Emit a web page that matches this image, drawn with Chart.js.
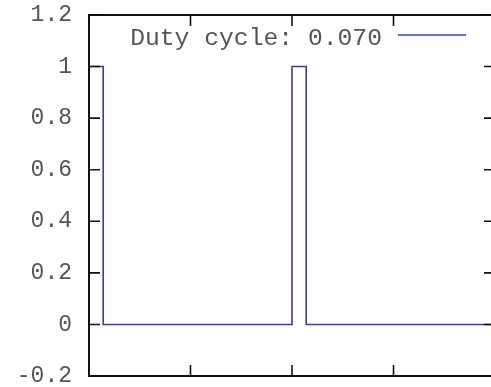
<!DOCTYPE html>
<html>
<head>
<meta charset="utf-8">
<script src="https://cdn.jsdelivr.net/npm/chart.js@4"></script>
<style>
  html, body { margin: 0; padding: 0; overflow: hidden; background: #fff; }
  #myChart { display: block; }
</style>
</head>
<body>
<canvas id="myChart" width="500" height="387"></canvas>
<script>
const seriesLabel = "Duty cycle: 0.070";
const pulseX = [0, 0.14, 0.14, 2, 2, 2.14, 2.14, 4];
const pulseY = [1, 1, 0, 0, 1, 1, 0, 0];
const xTickValues = [0, 1, 2, 3, 4];
const yTickValues = [-0.2, 0, 0.2, 0.4, 0.6, 0.8, 1, 1.2];
const yTickLabels = ["-0.2", "0", "0.2", "0.4", "0.6", "0.8", "1", "1.2"];

const lineColor = '#3b3ba8';

// gnuplot style border with inward ticks on all four sides, plus a key at top right
const gnuplotFrame = {
    id: 'gnuplotFrame',
    afterDatasetsDraw(chart) {
        const ctx = chart.ctx;
        const area = chart.chartArea;
        const xs = chart.scales.x;
        const ys = chart.scales.y;
        const tick = 11;
        ctx.save();
        ctx.strokeStyle = '#111';
        ctx.lineWidth = 2;
        ctx.strokeRect(area.left, area.top, area.right - area.left, area.bottom - area.top);
        ctx.lineWidth = 1.6;
        ctx.beginPath();
        xTickValues.forEach(v => {
            const px = xs.getPixelForValue(v);
            ctx.moveTo(px, area.bottom); ctx.lineTo(px, area.bottom - tick);
            ctx.moveTo(px, area.top); ctx.lineTo(px, area.top + tick);
        });
        yTickValues.forEach(v => {
            const py = ys.getPixelForValue(v);
            ctx.moveTo(area.left, py); ctx.lineTo(area.left + tick, py);
            ctx.moveTo(area.right, py); ctx.lineTo(area.right - tick, py);
        });
        ctx.stroke();

        // key
        const ds = chart.data.datasets[0];
        ctx.font = '24.7px "Liberation Mono", "DejaVu Sans Mono", monospace';
        ctx.fillStyle = '#555';
        ctx.textAlign = 'right';
        ctx.textBaseline = 'alphabetic';
        ctx.fillText(ds.label, 382, 45);
        ctx.strokeStyle = ds.borderColor;
        ctx.lineWidth = 1.6;
        ctx.beginPath();
        ctx.moveTo(398, 35);
        ctx.lineTo(466, 35);
        ctx.stroke();
        ctx.restore();
    }
};

const noPad = s => {
    s.paddingTop = 0; s.paddingBottom = 0;
    s.paddingLeft = 0; s.paddingRight = 0;
};

const ctx = document.getElementById('myChart').getContext('2d');
new Chart(ctx, {
    type: 'line',
    data: {
        datasets: [{
            label: seriesLabel,
            data: pulseX.map((x, i) => ({ x: x, y: pulseY[i] })),
            borderColor: lineColor,
            borderWidth: 1.6,
            pointRadius: 0,
            tension: 0,
            fill: false
        }]
    },
    options: {
        responsive: false,
        animation: false,
        devicePixelRatio: 1,
        layout: { padding: { left: 0, top: 15, right: 5, bottom: 11 } },
        plugins: {
            legend: { display: false },
            tooltip: { enabled: false }
        },
        scales: {
            x: {
                type: 'linear',
                min: 0,
                max: 4,
                grid: { display: false },
                border: { display: false },
                ticks: { display: false },
                afterFit: s => { s.height = 0; noPad(s); }
            },
            y: {
                type: 'linear',
                min: -0.2,
                max: 1.2,
                grid: { display: false, drawTicks: false },
                border: { display: false },
                afterBuildTicks: s => { s.ticks = yTickValues.map(v => ({ value: v })); },
                afterFit: s => { s.width = 89; noPad(s); },
                ticks: {
                    padding: 17,
                    color: '#555',
                    font: { family: '"Liberation Mono", "DejaVu Sans Mono", monospace', size: 23 },
                    callback: (v, i) => yTickLabels[i]
                }
            }
        }
    },
    plugins: [gnuplotFrame]
});
</script>
</body>
</html>
